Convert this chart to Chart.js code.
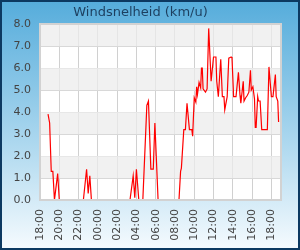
<!DOCTYPE html>
<html lang="nl">
<head>
<meta charset="utf-8">
<title>Windsnelheid</title>
<script src="https://cdn.jsdelivr.net/npm/chart.js@4.4.1/dist/chart.umd.min.js"></script>
<style>
    html, body { margin: 0; padding: 0; }
    #kader {
        position: relative;
        width: 300px;
        height: 250px;
        background: linear-gradient(to bottom, #55acdb 0%, #a9d6ee 55%, #f6fbfe 100%);
        box-shadow: inset 0 0 0 2px #0c3961;
    }
    #kader canvas { position: absolute; left: 0; top: 0; }
</style>
</head>
<body>
<div id="kader"><canvas id="grafiek" width="300" height="250"></canvas></div>
<script>
    var TIJDEN = [
        '18:50', '19:00', '19:10', '19:20', '19:30', '19:50', '20:00',
        '22:30', '22:50', '23:00', '23:10', '23:20',
        '03:20', '03:40', '03:50', '04:00', '04:15',
        '04:40', '05:05', '05:15', '05:30', '05:45', '05:55', '06:15',
        '08:25', '08:35', '08:40', '08:55', '09:05', '09:15', '09:30', '09:45', '09:50',
        '10:00', '10:10', '10:15', '10:20', '10:30', '10:40', '10:45', '10:50', '10:55',
        '11:10', '11:20', '11:30', '11:45', '12:00', '12:15', '12:20', '12:30', '12:45', '12:55',
        '13:05', '13:10', '13:25', '13:35', '13:50', '13:55', '14:05', '14:20', '14:35', '14:45', '14:50',
        '15:05', '15:10', '15:20', '15:30', '15:40', '15:50', '15:55', '16:05', '16:15', '16:20', '16:25',
        '16:35', '16:40', '16:50', '17:00', '17:35', '17:45',
        '18:00', '18:10', '18:25', '18:30', '18:40', '18:45',
    ];

    var WAARDEN = [
        3.9, 3.5, 1.3, 1.3, 0, 1.2, 0,
        0, 1.4, 0.3, 1.1, 0,
        0, 1.1, 0.1, 1.4, 0,
        0, 4.3, 4.5, 1.4, 1.4, 3.5, 0,
        0, 1.3, 1.45, 3.2, 3.2, 4.4, 3.2, 3.2, 2.9,
        4.65, 4.45, 5.15, 4.8, 5.35, 5.1, 6.0, 6.0, 5.05,
        4.9, 5.05, 7.8, 5.4, 6.5, 6.5, 5.4, 4.7, 6.4, 4.7,
        4.7, 4.1, 4.7, 6.45, 6.5, 6.45, 4.7, 4.7, 5.8, 4.75, 4.4,
        5.4, 4.5, 4.65, 4.75, 4.9, 5.9, 5.0, 5.15, 4.6, 3.3, 3.3,
        4.7, 4.5, 4.5, 3.2, 3.2, 6.05,
        4.7, 4.7, 5.7, 4.7, 4.5, 3.55,
    ];

    var START_MINUUT = 18 * 60;   // as begint om 18:00
    var DUUR = 25 * 60;           // tot 19:00 de volgende dag
    var Y_MAX = 8;

    // tijden omzetten naar minuten sinds de start (over middernacht heen)
    var punten = [];
    var vorige = 0;

    TIJDEN.forEach(function (t, i) {
        var p = t.split(':');
        var m = parseInt(p[0], 10) * 60 + parseInt(p[1], 10) - START_MINUUT;

        while (m < vorige) {
            m += 1440;
        }

        vorige = m;
        punten.push({x: m, y: WAARDEN[i]});
    });

    function tijdLabel(m) {
        var totaal = (m + START_MINUUT) % 1440;
        var u = Math.floor(totaal / 60);
        var min = totaal % 60;

        return (u < 10 ? '0' : '') + u + ':' + (min < 10 ? '0' : '') + min;
    }

    var banden = {
        id: 'banden',
        beforeDatasetsDraw: function (chart) {
            var ctx = chart.ctx;
            var a = chart.chartArea;
            var y = chart.scales.y;

            ctx.save();

            for (var v = 1; v < Y_MAX; v += 2) {
                var boven = y.getPixelForValue(v + 1);
                var onder = y.getPixelForValue(v);
                ctx.fillStyle = 'rgba(236, 236, 236, 0.75)';
                ctx.fillRect(a.left, boven, a.right - a.left, onder - boven);
            }

            ctx.restore();
        },
        afterDatasetsDraw: function (chart) {
            var ctx = chart.ctx;
            var a = chart.chartArea;

            ctx.save();
            ctx.strokeStyle = '#d2d2d2';
            ctx.lineWidth = 2;
            ctx.strokeRect(a.left, a.top, a.right - a.left, a.bottom - a.top);
            ctx.restore();
        },
    };

    var achtergrond = {
        id: 'achtergrond',
        beforeDraw: function (chart) {
            var ctx = chart.ctx;
            var a = chart.chartArea;

            ctx.save();
            ctx.fillStyle = '#ffffff';
            ctx.fillRect(a.left, a.top, a.right - a.left, a.bottom - a.top);
            ctx.restore();
        },
    };

    new Chart(document.getElementById('grafiek'), {
        type: 'line',
        data: {
            datasets: [{
                label: 'Windsnelheid',
                data: punten,
                borderColor: '#ff0000',
                borderWidth: 1.2,
                pointRadius: 0,
                tension: 0,
                fill: false,
            }],
        },
        options: {
            responsive: false,
            animation: false,
            devicePixelRatio: 1,
            layout: {padding: {left: 0, right: 19, top: 0, bottom: 0}},
            plugins: {
                legend: {display: false},
                tooltip: {enabled: false},
                title: {
                    display: true,
                    text: 'Windsnelheid (km/u)',
                    color: '#1d3f5f',
                    font: {family: 'DejaVu Sans', size: 13, weight: 'normal'},
                    padding: {top: 5, bottom: 3.4},
                },
            },
            scales: {
                x: {
                    type: 'linear',
                    min: 0,
                    max: DUUR,
                    afterFit: function (s) { s.height = 50; },
                    grid: {color: '#d0d0d0', drawTicks: false},
                    border: {display: false},
                    ticks: {
                        stepSize: 120,
                        includeBounds: false,
                        autoSkip: false,
                        minRotation: 90,
                        maxRotation: 90,
                        padding: 9,
                        color: '#444444',
                        font: {family: 'DejaVu Sans', size: 11},
                        callback: function (v) { return tijdLabel(v); },
                    },
                },
                y: {
                    min: 0,
                    max: Y_MAX,
                    afterFit: function (s) { s.width = 40; },
                    grid: {color: '#d8d8d8', drawTicks: false},
                    border: {display: false},
                    ticks: {
                        stepSize: 1,
                        padding: 9,
                        color: '#444444',
                        font: {family: 'DejaVu Sans', size: 11},
                        callback: function (v) { return v.toFixed(1); },
                    },
                },
            },
        },
        plugins: [achtergrond, banden],
    });
</script>
</body>
</html>
